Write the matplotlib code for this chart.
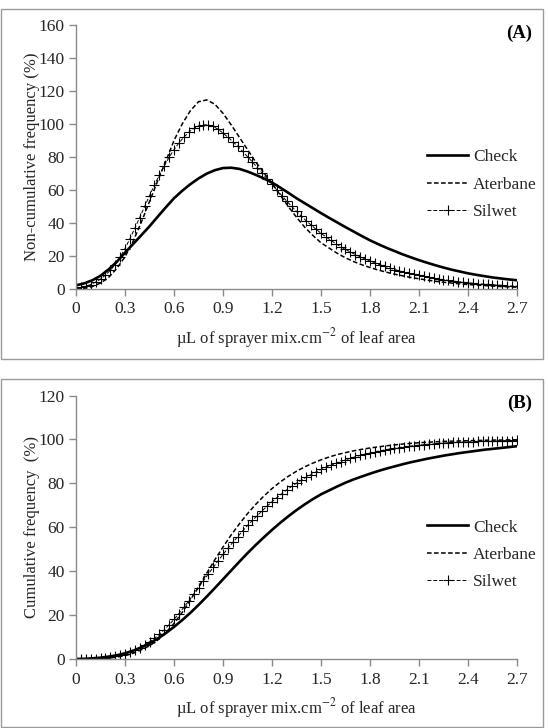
import numpy as np
import matplotlib
matplotlib.use('Agg')
import matplotlib.pyplot as plt
from matplotlib.patches import Rectangle

plt.rcParams['font.family'] = ['Liberation Serif', 'DejaVu Serif']
plt.rcParams['mathtext.fontset'] = 'stix'

# x grids (µL of sprayer mix per cm2 of leaf area)
x_line = np.round(np.arange(55) * 0.05, 2)   # Check / Aterbane
x_silwet = np.round(np.arange(91) * 0.03, 2)  # Silwet (marked points)

# (A) non-cumulative frequency (%)
check_nc = [2.2, 3.4, 5.3, 8.0, 11.9, 16.5, 22.0, 27.3, 32.6, 38.0,
            43.8, 49.5, 55.0, 59.5, 63.5, 67.0, 69.9, 72.0, 73.3, 73.5,
            72.8, 71.2, 69.2, 67.0, 64.5, 61.5, 58.3, 55.0, 52.0, 49.0,
            46.0, 43.1, 40.3, 37.5, 34.8, 32.1, 29.5, 27.2, 25.0, 23.0,
            21.0, 19.2, 17.5, 15.9, 14.4, 13.0, 11.7, 10.6, 9.5, 8.6,
            7.8, 7.0, 6.4, 5.8, 5.3]
aterbane_nc = [0.0, 0.4, 1.5, 3.6, 7.0, 12.5, 19.5, 29.0, 40.5, 53.0,
               65.5, 77.5, 90.0, 100.0, 108.0, 113.5, 114.6, 112.0, 106.5, 99.5,
               92.0, 84.5, 77.0, 70.5, 64.0, 57.0, 50.0, 43.5, 37.5, 32.5,
               28.0, 24.8, 21.6, 18.9, 16.6, 14.7, 13.0, 11.5, 10.2, 9.0,
               8.0, 7.0, 6.2, 5.4, 4.7, 4.1, 3.6, 3.1, 2.7, 2.4,
               2.1, 1.8, 1.5, 1.3, 1.1]
silwet_nc = [0.5, 1.0, 1.7, 2.7, 4.2, 6.0, 8.4, 11.3, 14.8, 19.3,
             24.5, 30.5, 36.8, 43.3, 50.0, 56.5, 63.0, 69.0, 74.5, 79.8,
             84.5, 88.5, 92.0, 95.0, 97.3, 98.8, 99.5, 99.4, 98.5, 96.8,
             94.5, 92.0, 89.3, 86.5, 83.4, 80.2, 77.0, 73.6, 70.2, 66.8,
             63.4, 60.0, 56.6, 53.3, 50.1, 47.0, 44.1, 41.3, 38.7, 36.2,
             33.8, 31.6, 29.5, 27.5, 25.7, 24.0, 22.4, 20.9, 19.5, 18.2,
             17.0, 15.8, 14.7, 13.7, 12.7, 11.8, 11.0, 10.2, 9.5, 8.8,
             8.2, 7.6, 7.0, 6.5, 6.0, 5.6, 5.2, 4.8, 4.4, 4.1,
             3.8, 3.5, 3.2, 3.0, 2.8, 2.6, 2.4, 2.2, 2.0, 1.8,
             1.6]

# (B) cumulative frequency (%)
check_c = [0.0, 0.1, 0.3, 0.6, 1.1, 1.7, 2.6, 3.8, 5.3, 7.1,
           9.3, 11.8, 14.6, 17.7, 21.0, 24.6, 28.4, 32.3, 36.3, 40.3,
           44.3, 48.2, 51.9, 55.4, 58.8, 62.0, 65.0, 67.8, 70.4, 72.8,
           75.0, 76.8, 78.6, 80.3, 81.8, 83.1, 84.4, 85.6, 86.7, 87.7,
           88.7, 89.6, 90.4, 91.2, 91.9, 92.6, 93.2, 93.8, 94.3, 94.8,
           95.3, 95.7, 96.1, 96.5, 96.9]
aterbane_c = [0.0, 0.0, 0.1, 0.2, 0.4, 0.9, 1.5, 2.6, 4.2, 6.0,
              8.6, 12.0, 16.2, 21.2, 26.8, 32.8, 39.0, 45.2, 51.0, 56.5,
              61.5, 66.2, 70.4, 74.2, 77.6, 80.6, 83.2, 85.5, 87.5, 89.2,
              90.7, 92.0, 93.1, 94.0, 94.8, 95.5, 96.1, 96.6, 97.1, 97.5,
              97.9, 98.2, 98.5, 98.7, 98.9, 99.1, 99.2, 99.3, 99.4, 99.5,
              99.6, 99.7, 99.7, 99.8, 99.8]
silwet_c = [0.0, 0.0, 0.1, 0.1, 0.2, 0.4, 0.6, 0.9, 1.3, 1.8,
            2.4, 3.1, 4.0, 5.1, 6.4, 7.8, 9.4, 11.2, 13.3, 15.6,
            18.0, 20.7, 23.5, 26.4, 29.4, 32.5, 35.6, 38.7, 41.7, 44.7,
            47.6, 50.4, 53.1, 55.7, 58.3, 60.8, 63.1, 65.3, 67.5, 69.6,
            71.6, 73.5, 75.3, 77.0, 78.6, 80.1, 81.5, 82.8, 84.0, 85.2,
            86.3, 87.3, 88.2, 89.1, 89.9, 90.7, 91.4, 92.1, 92.7, 93.3,
            93.8, 94.3, 94.8, 95.2, 95.6, 96.0, 96.3, 96.6, 96.9, 97.2,
            97.4, 97.6, 97.8, 98.0, 98.2, 98.3, 98.5, 98.6, 98.7, 98.8,
            98.9, 99.0, 99.1, 99.2, 99.3, 99.3, 99.4, 99.4, 99.5, 99.5,
            99.6]

x_ticks = [0, 0.3, 0.6, 0.9, 1.2, 1.5, 1.8, 2.1, 2.4, 2.7]
x_ticklabels = ['0', '0.3', '0.6', '0.9', '1.2', '1.5', '1.8', '2.1', '2.4', '2.7']
xlabel = r'µL of sprayer mix.cm$^{-2}$ of leaf area'

text_c = '#262626'
axis_c = '#8a8a8a'
W, H = 548, 728

fig = plt.figure(figsize=(W / 100, H / 100), dpi=100)

# gray frames around each panel
fig.add_artist(Rectangle((1 / W, 1 - 359 / H), 542 / W, 350 / H, transform=fig.transFigure,
                         fill=False, edgecolor='#9a9a9a', lw=1.0))
fig.add_artist(Rectangle((1 / W, 1 - 727 / H), 542 / W, 348 / H, transform=fig.transFigure,
                         fill=False, edgecolor='#9a9a9a', lw=1.0))

panels = [
    (25, 289, check_nc, aterbane_nc, silwet_nc, 160, 20, 'Non-cumulative frequency (%)', '(A)'),
    (395.5, 659, check_c, aterbane_c, silwet_c, 120, 20, 'Cumulative frequency  (%)', '(B)'),
]

for top, bottom, yc, ya, ys, ymax, ystep, ylabel, tag in panels:
    ax = fig.add_axes([76 / W, 1 - bottom / H, 441 / W, (bottom - top) / H])
    ax.plot(x_line, yc, color='black', lw=1.9, label='Check')
    ax.plot(x_line, ya, color='black', lw=1.1, ls=(0, (3, 1.6)), label='Aterbane')
    ax.plot(x_silwet, ys, color='black', lw=0.7, ls=(0, (4, 2)), marker='+',
            ms=7.5, mew=0.8, label='Silwet')

    ax.set_xlim(0, 2.7)
    ax.set_ylim(0, ymax)
    ax.set_xticks(x_ticks)
    ax.set_xticklabels(x_ticklabels)
    ax.set_yticks(np.arange(0, ymax + 1, ystep))
    for s in ['top', 'right']:
        ax.spines[s].set_visible(False)
    for s in ['left', 'bottom']:
        ax.spines[s].set_color(axis_c)
        ax.spines[s].set_linewidth(1.0)
    ax.tick_params(axis='both', colors=axis_c, labelcolor=text_c, labelsize=12.5,
                   length=5, width=1.0, direction='out')
    ax.tick_params(axis='x', pad=4)
    ax.tick_params(axis='y', pad=3)
    ax.set_xlabel(xlabel, fontsize=12, color=text_c, labelpad=6)
    ax.set_ylabel(ylabel, fontsize=12, color=text_c, labelpad=-1)
    ax.text(1.034, 0.97, tag, transform=ax.transAxes, ha='right', va='center',
            fontsize=13.5, fontweight='bold', color='black')
    leg = ax.legend(loc='center left', bbox_to_anchor=(0.76, 0.395), frameon=False,
                    fontsize=12.5, handlelength=2.4, handletextpad=0.25, labelspacing=0.65)
    for t in leg.get_texts():
        t.set_color(text_c)

fig.savefig('out.png', dpi=100, facecolor='white')
